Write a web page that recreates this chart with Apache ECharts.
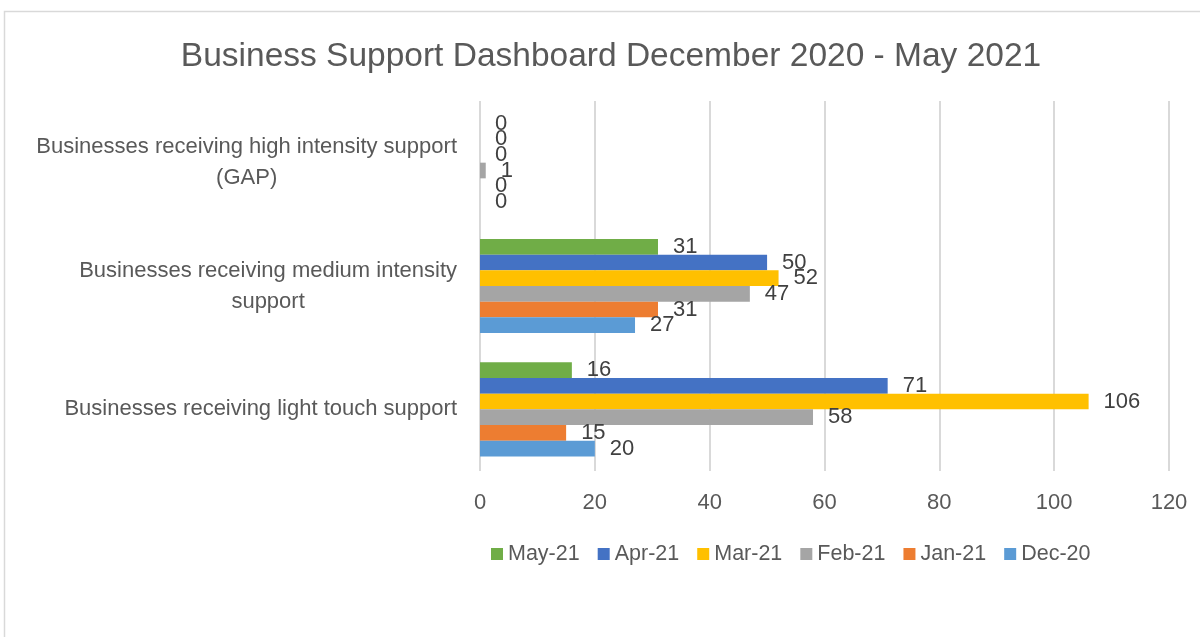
<!DOCTYPE html>
<html>
<head>
<meta charset="utf-8">
<script src="https://cdn.jsdelivr.net/npm/echarts@6/dist/echarts.min.js"></script>
<style>html,body{margin:0;padding:0;background:#fff;}#main{width:1200px;height:637px;}</style>
</head>
<body>
<div id="main"></div>
<script>
const categories = [
  'Businesses receiving light touch support',
  'Businesses receiving medium intensity\nsupport',
  'Businesses receiving high intensity support\n(GAP)'
];
const seriesNames = ['May-21', 'Apr-21', 'Mar-21', 'Feb-21', 'Jan-21', 'Dec-20'];
const may21 = [16, 31, 0];
const apr21 = [71, 50, 0];
const mar21 = [106, 52, 0];
const feb21 = [58, 47, 1];
const jan21 = [15, 31, 0];
const dec20 = [20, 27, 0];
const xTicks = [0, 20, 40, 60, 80, 100, 120];

const seriesData = [may21, apr21, mar21, feb21, jan21, dec20];
const colors = ['#70AD47', '#4472C4', '#FFC000', '#A5A5A5', '#ED7D31', '#5B9BD5'];
const FONT = 'Liberation Sans';

const chart = echarts.init(document.getElementById('main'));
chart.setOption({
  animation: false,
  backgroundColor: '#ffffff',
  textStyle: { fontFamily: FONT },
  graphic: [{
    type: 'rect', left: 2, top: 9, silent: true,
    shape: { width: 1300, height: 700 },
    style: { fill: 'none', stroke: '#D9D9D9', lineWidth: 1.5 }
  }],
  title: {
    text: 'Business Support Dashboard December 2020 - May 2021',
    left: 606, top: 35, textAlign: 'center',
    textStyle: { fontFamily: FONT, fontSize: 33.5, fontWeight: 'normal', color: '#595959' }
  },
  legend: {
    data: seriesNames,
    left: 491, top: 543, padding: 0,
    itemWidth: 12, itemHeight: 12, itemGap: 18,
    icon: 'rect',
    textStyle: { fontFamily: FONT, fontSize: 21.5, color: '#595959' }
  },
  grid: { left: 480, right: 31, top: 101, bottom: 166, containLabel: false },
  xAxis: {
    type: 'value', min: 0, max: 120, interval: 20,
    axisLine: { show: false }, axisTick: { show: false },
    splitLine: { show: true, lineStyle: { color: '#D9D9D9', width: 2 } },
    axisLabel: {
      margin: 21, fontFamily: FONT, fontSize: 22, color: '#595959',
      formatter: v => (xTicks.indexOf(v) >= 0 ? String(v) : '')
    }
  },
  yAxis: {
    type: 'category', data: categories,
    axisLine: { show: false }, axisTick: { show: false },
    axisLabel: {
      margin: 23, fontFamily: FONT, fontSize: 22, color: '#595959', align: 'right',
      lineHeight: 31,
      formatter: v => v.split('\n').map(s => '{c|' + s + '}').join('\n'),
      rich: { c: { align: 'center', fontFamily: FONT, fontSize: 22, color: '#595959', lineHeight: 31 } }
    }
  },
  series: seriesNames.map((name, i) => ({
    name: name, type: 'bar', data: seriesData[i],
    barGap: '0%', barCategoryGap: '23.7%',
    itemStyle: { color: colors[i] },
    label: {
      show: true, position: 'right', distance: 15,
      fontFamily: FONT, fontSize: 22, color: '#404040'
    }
  }))
});
</script>
</body>
</html>
